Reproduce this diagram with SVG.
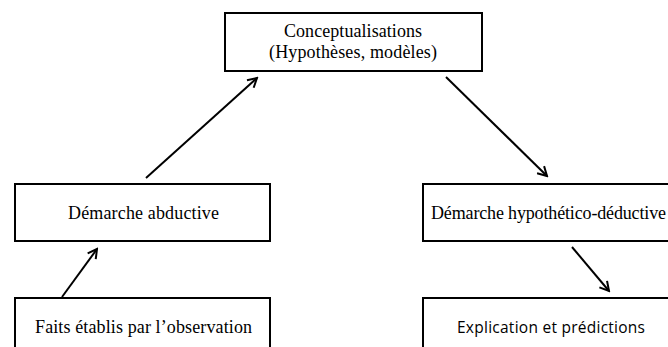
<svg xmlns="http://www.w3.org/2000/svg" width="668" height="347" viewBox="0 0 668 347">
<style>
.box{fill:#fff;stroke:#000;stroke-width:2}
.t{font-family:"Liberation Serif","Times New Roman",serif;font-size:18px;fill:#000}
.s{font-family:"Open Sans","Noto Sans",sans-serif;font-size:15.5px;fill:#000}
.c{fill:none;stroke:#000;stroke-width:2}
</style>
<defs>
<marker id="ah" markerWidth="12" markerHeight="12" viewBox="0 0 12 12" refX="10" refY="6" orient="auto" markerUnits="userSpaceOnUse">
<path d="M1,1 L10,6 L1,11" fill="none" stroke="#000" stroke-width="2"/>
</marker>
</defs>
<rect width="668" height="347" fill="#fff"/>
<g id="n-concept">
<rect class="box" x="225" y="13" width="257" height="58"/>
<text class="t" x="353" y="37" text-anchor="middle" textLength="138">Conceptualisations</text>
<text class="t" x="353" y="58" text-anchor="middle" textLength="168">(Hypothèses, modèles)</text>
</g>
<g id="n-abductive">
<rect class="box" x="15" y="184" width="255" height="57"/>
<text class="t" x="143.5" y="219" text-anchor="middle" textLength="151">Démarche abductive</text>
</g>
<g id="n-faits">
<rect class="box" x="15" y="298" width="255" height="60"/>
<text class="t" x="143.5" y="333" text-anchor="middle" textLength="217">Faits établis par l’observation</text>
</g>
<g id="n-hypo">
<rect class="box" x="423" y="184" width="290" height="57"/>
<text class="t" x="431" y="219" textLength="235">Démarche hypothético-déductive</text>
</g>
<g id="n-explic">
<rect class="box" x="423" y="298" width="290" height="60"/>
<text class="s" x="457" y="333" textLength="188">Explication et prédictions</text>
</g>
<g id="connectors">
<line class="c" x1="146" y1="178" x2="257" y2="78" marker-end="url(#ah)"/>
<line class="c" x1="446" y1="77" x2="547" y2="176" marker-end="url(#ah)"/>
<line class="c" x1="62" y1="297" x2="97" y2="249" marker-end="url(#ah)"/>
<line class="c" x1="572" y1="247" x2="609" y2="291" marker-end="url(#ah)"/>
</g>
</svg>
